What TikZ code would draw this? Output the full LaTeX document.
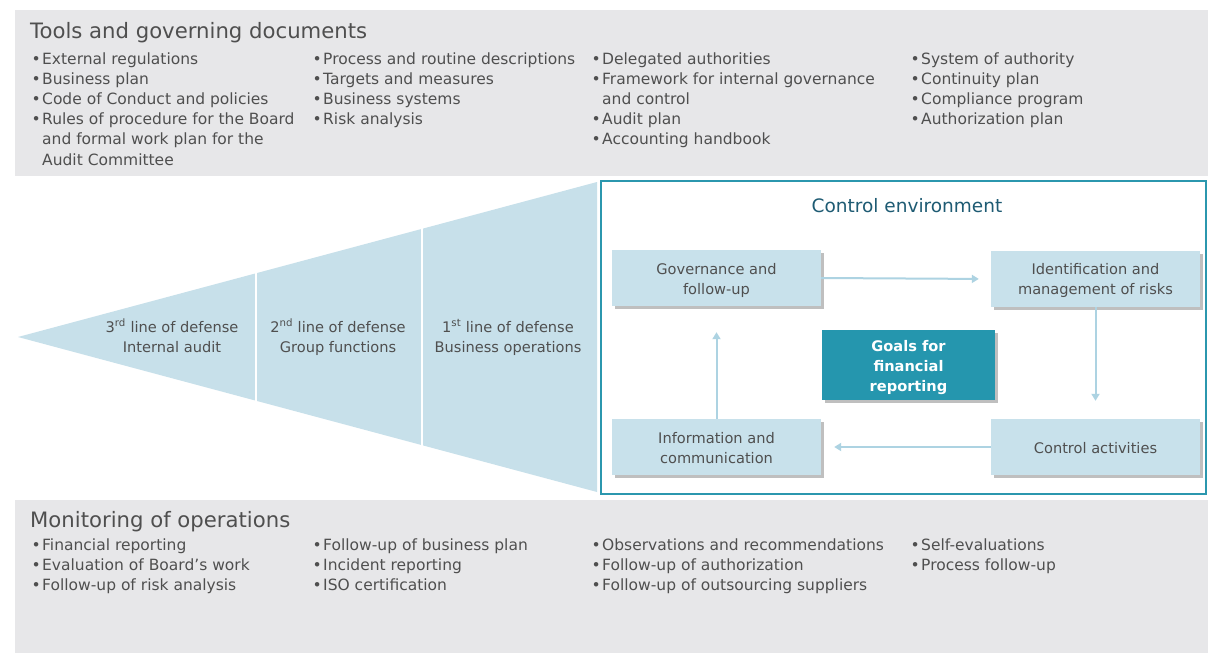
\documentclass[tikz,border=0pt]{standalone}
\usepackage{fontspec}
\setmainfont{DejaVu Sans}
\usetikzlibrary{shadows,arrows.meta}
\definecolor{band}{HTML}{E7E7E9}
\definecolor{txt}{HTML}{4F4F4F}
\definecolor{lblue}{HTML}{C8E1EB}
\definecolor{tri}{HTML}{C7E0EA}
\definecolor{teal}{HTML}{2596AE}
\definecolor{border}{HTML}{2B97AE}
\definecolor{ctitle}{HTML}{1E5B73}
\definecolor{arr}{HTML}{ADD3E2}
\newcommand\bu{\makebox[10.5pt][l]{•}}
\newcommand\ind{\hspace*{10.5pt}}
\tikzset{
  bandtitle/.style={anchor=base west,inner sep=0pt,text=txt,font=\fontsize{21.2}{24}\selectfont},
  listcol/.style={anchor=base west,inner sep=0pt,text=txt,font=\fontsize{15.5}{20.2}\selectfont},
  linetxt/.style={anchor=base,inner sep=0pt,text=txt,align=center,font=\fontsize{14.6}{20.5}\selectfont},
  cbox/.style={fill=lblue,minimum width=209pt,minimum height=56pt,inner sep=0pt,
    drop shadow={shadow xshift=3pt,shadow yshift=-3pt,fill=black!45,opacity=.55}},
  boxtxt/.style={text=txt,align=center,inner sep=0pt,font=\fontsize{14.6}{20}\selectfont},
  goalbox/.style={fill=teal,minimum width=173pt,minimum height=70pt,inner sep=0pt,
    drop shadow={shadow xshift=3pt,shadow yshift=-3pt,fill=black!45,opacity=.55}},
  goaltxt/.style={text=white,align=center,inner sep=0pt,font=\fontsize{14.6}{20}\selectfont\bfseries},
  flow/.style={draw=arr,line width=2pt,-{Triangle[length=7pt,width=8pt]}}
}
\begin{document}
\begin{tikzpicture}[x=1pt,y=-1pt]
\useasboundingbox[fill=white] (0,0) rectangle (1208,653);
% bands
\fill[band] (15,10) rectangle (1208,176);
\fill[band] (15,500) rectangle (1208,653);
% top band
\node[bandtitle] (ttitle) at (30,38) {Tools and governing documents};
\node[listcol] (t1) at (31.5,64) {\begin{tabular}[t]{@{}l@{}}
\bu External regulations\\
\bu Business plan\\
\bu Code of Conduct and policies\\
\bu Rules of procedure for the Board\\
\ind and formal work plan for the\\
\ind Audit Committee\end{tabular}};
\node[listcol] (t2) at (312.5,64) {\begin{tabular}[t]{@{}l@{}}
\bu Process and routine descriptions\\
\bu Targets and measures\\
\bu Business systems\\
\bu Risk analysis\end{tabular}};
\node[listcol] (t3) at (591.5,64) {\begin{tabular}[t]{@{}l@{}}
\bu Delegated authorities\\
\bu Framework for internal governance\\
\ind and control\\
\bu Audit plan\\
\bu Accounting handbook\end{tabular}};
\node[listcol] (t4) at (910.5,64) {\begin{tabular}[t]{@{}l@{}}
\bu System of authority\\
\bu Continuity plan\\
\bu Compliance program\\
\bu Authorization plan\end{tabular}};
% bottom band
\node[bandtitle] (btitle) at (30,527) {Monitoring of operations};
\node[listcol] (b1) at (31.5,550) {\begin{tabular}[t]{@{}l@{}}
\bu Financial reporting\\
\bu Evaluation of Board’s work\\
\bu Follow-up of risk analysis\end{tabular}};
\node[listcol] (b2) at (312.5,550) {\begin{tabular}[t]{@{}l@{}}
\bu Follow-up of business plan\\
\bu Incident reporting\\
\bu ISO certification\end{tabular}};
\node[listcol] (b3) at (591.5,550) {\begin{tabular}[t]{@{}l@{}}
\bu Observations and recommendations\\
\bu Follow-up of authorization\\
\bu Follow-up of outsourcing suppliers\end{tabular}};
\node[listcol] (b4) at (910.5,550) {\begin{tabular}[t]{@{}l@{}}
\bu Self-evaluations\\
\bu Process follow-up\end{tabular}};
% triangle
\fill[tri] (18,337) -- (597,182) -- (597,492) -- cycle;
\draw[white,line width=2.5pt] (256,179) -- (256,497);
\draw[white,line width=2.5pt] (422,179) -- (422,497);
\node[linetxt] (l3) at (172,352.5) {3\textsuperscript{rd} line of defense\\Internal audit};
\node[linetxt] (l2) at (338,352.5) {2\textsuperscript{nd} line of defense\\Group functions};
\node[linetxt] (l1) at (508,352.5) {1\textsuperscript{st} line of defense\\Business operations};
% control environment
\draw[border,line width=2pt] (601,181) rectangle (1206,494);
\node[anchor=base,inner sep=0pt,text=ctitle,font=\fontsize{18.5}{22}\selectfont] (ctl) at (907,212) {Control environment};
\node[cbox] (gov) at (716.5,278) {};
\node[cbox] (ident) at (1095.5,279) {};
\node[cbox] (info) at (716.5,447) {};
\node[cbox] (ctrl) at (1095.5,447) {};
\node[goalbox] (goal) at (908.5,365) {};
\node[boxtxt] (govt) at ([yshift=-2.5pt]gov.center) {Governance and\\follow-up};
\node[boxtxt] (identt) at ([yshift=-1pt]ident.center) {Identification and\\management of risks};
\node[boxtxt] (infot) at ([yshift=-1pt]info.center) {Information and\\communication};
\node[boxtxt] (ctrlt) at ([yshift=-1pt]ctrl.center) {Control activities};
\node[goaltxt] (goalt) at ([yshift=-3pt]goal.center) {Goals for\\financial\\reporting};
\draw[flow,shorten >=12pt] (gov.east) -- (ident.west);
\draw[flow,shorten >=18pt] (ident.south) -- (ctrl.north);
\draw[flow,shorten >=13pt] (ctrl.west) -- (info.east);
\draw[flow,shorten >=26pt] (info.north) -- (gov.south);
\end{tikzpicture}
\end{document}
